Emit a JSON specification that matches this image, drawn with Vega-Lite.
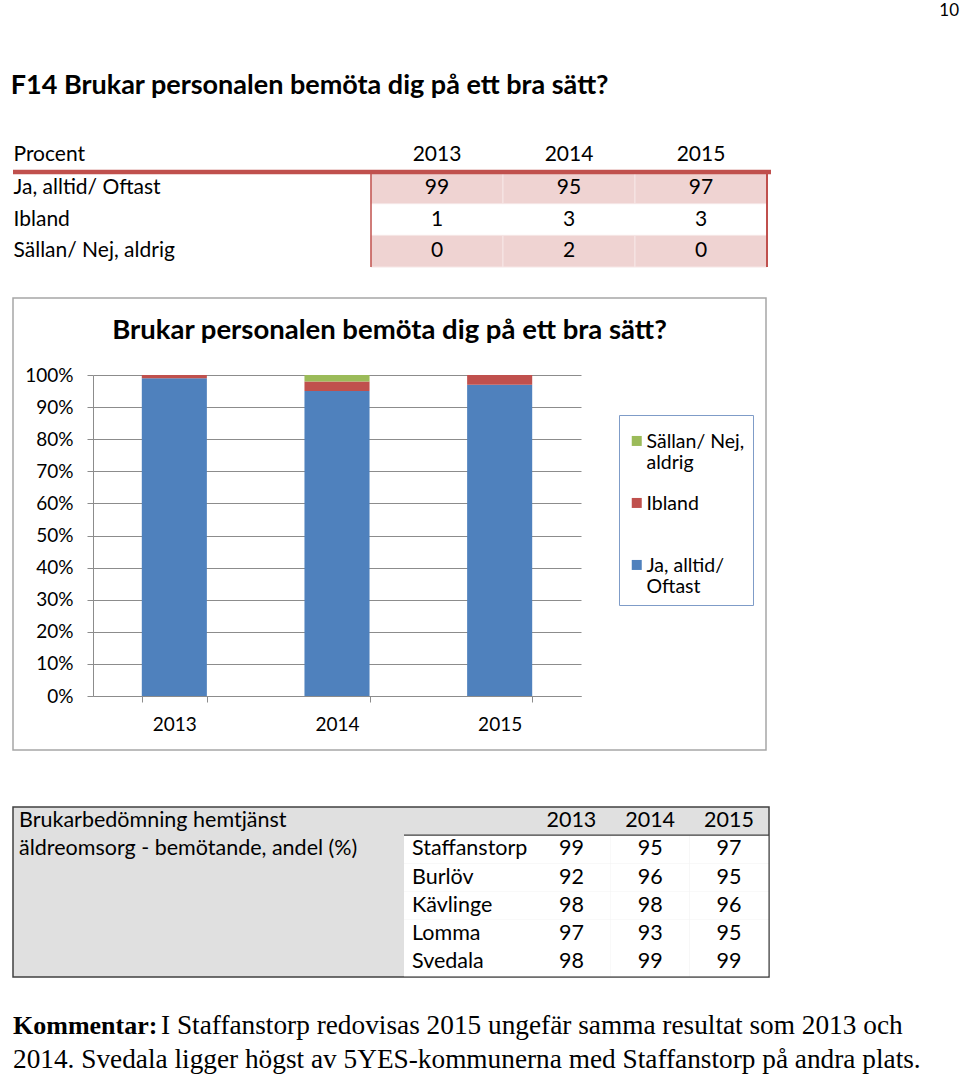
{
  "$schema": "https://vega.github.io/schema/vega-lite/v6.json",
  "background": "white",
  "padding": {"left": 10, "top": 2, "right": 2, "bottom": 0},
  "title": {"text": "10", "anchor": "end", "fontSize": 17, "fontWeight": "normal", "font": "Lato", "color": "#000000", "offset": 52},
  "datasets": {
    "f14": [
      {"kategori": "Ja, alltid/ Oftast", "ar": "2013", "procent": 99},
      {"kategori": "Ja, alltid/ Oftast", "ar": "2014", "procent": 95},
      {"kategori": "Ja, alltid/ Oftast", "ar": "2015", "procent": 97},
      {"kategori": "Ibland", "ar": "2013", "procent": 1},
      {"kategori": "Ibland", "ar": "2014", "procent": 3},
      {"kategori": "Ibland", "ar": "2015", "procent": 3},
      {"kategori": "Sällan/ Nej, aldrig", "ar": "2013", "procent": 0},
      {"kategori": "Sällan/ Nej, aldrig", "ar": "2014", "procent": 2},
      {"kategori": "Sällan/ Nej, aldrig", "ar": "2015", "procent": 0}
    ],
    "kommuner": [
      {"kommun": "Staffanstorp", "ar": "2013", "andel": 99},
      {"kommun": "Staffanstorp", "ar": "2014", "andel": 95},
      {"kommun": "Staffanstorp", "ar": "2015", "andel": 97},
      {"kommun": "Burlöv", "ar": "2013", "andel": 92},
      {"kommun": "Burlöv", "ar": "2014", "andel": 96},
      {"kommun": "Burlöv", "ar": "2015", "andel": 95},
      {"kommun": "Kävlinge", "ar": "2013", "andel": 98},
      {"kommun": "Kävlinge", "ar": "2014", "andel": 98},
      {"kommun": "Kävlinge", "ar": "2015", "andel": 96},
      {"kommun": "Lomma", "ar": "2013", "andel": 97},
      {"kommun": "Lomma", "ar": "2014", "andel": 93},
      {"kommun": "Lomma", "ar": "2015", "andel": 95},
      {"kommun": "Svedala", "ar": "2013", "andel": 98},
      {"kommun": "Svedala", "ar": "2014", "andel": 99},
      {"kommun": "Svedala", "ar": "2015", "andel": 99}
    ]
  },
  "config": {
    "view": {"stroke": null},
    "font": "Lato",
    "axis": {"labelFont": "Lato", "labelColor": "#000000", "titleFont": "Lato", "titleColor": "#000000"},
    "legend": {"labelFont": "Lato", "labelColor": "#000000"},
    "title": {"font": "Lato", "color": "#000000"}
  },
  "spacing": 29,
  "vconcat": [
    {
      "width": 758,
      "height": 95,
      "title": {"text": "F14 Brukar personalen bemöta dig på ett bra sätt?", "anchor": "start", "fontSize": 27, "fontWeight": "bold", "baseline": "alphabetic", "offset": 22},
      "data": {"name": "f14"},
      "layer": [
        {
          "transform": [{"filter": {"field": "kategori", "oneOf": ["Ja, alltid/ Oftast", "Sällan/ Nej, aldrig"]}}],
          "mark": {"type": "rect", "fill": "#EFD3D2", "stroke": "#F6E6E6", "strokeWidth": 1},
          "encoding": {
            "x": {"field": "ar", "type": "nominal", "scale": {"type": "band", "domain": ["2013", "2014", "2015"], "range": [358, 754], "paddingInner": 0, "paddingOuter": 0}, "axis": {"orient": "top", "title": null, "labelAngle": 0, "ticks": false, "tickSize": 0, "domain": false, "labelPadding": 12, "labelBaseline": "alphabetic", "labelFontSize": 21}},
            "y": {"field": "kategori", "type": "nominal", "scale": {"type": "band", "domain": ["Ja, alltid/ Oftast", "Ibland", "Sällan/ Nej, aldrig"], "paddingInner": 0, "paddingOuter": 0}, "axis": {"orient": "left", "title": "Procent", "titleAngle": 0, "titleAlign": "left", "titleBaseline": "alphabetic", "titleX": 0, "titleY": -12, "titleFontSize": 21, "titleFontWeight": "normal", "labelAlign": "left", "labelPadding": 0, "labelFontSize": 21, "labelLimit": 300, "ticks": false, "tickSize": 0, "domain": false}}
          }
        },
        {
          "mark": {"type": "text", "fontSize": 21, "font": "Lato", "color": "#000000"},
          "encoding": {
            "x": {"field": "ar", "type": "nominal", "scale": {"type": "band", "domain": ["2013", "2014", "2015"], "range": [358, 754], "paddingInner": 0, "paddingOuter": 0}, "axis": {"orient": "top", "title": null, "labelAngle": 0, "ticks": false, "tickSize": 0, "domain": false, "labelPadding": 12, "labelBaseline": "alphabetic", "labelFontSize": 21}},
            "y": {"field": "kategori", "type": "nominal", "scale": {"type": "band", "domain": ["Ja, alltid/ Oftast", "Ibland", "Sällan/ Nej, aldrig"], "paddingInner": 0, "paddingOuter": 0}, "axis": {"orient": "left", "title": "Procent", "titleAngle": 0, "titleAlign": "left", "titleBaseline": "alphabetic", "titleX": 0, "titleY": -12, "titleFontSize": 21, "titleFontWeight": "normal", "labelAlign": "left", "labelPadding": 0, "labelFontSize": 21, "labelLimit": 300, "ticks": false, "tickSize": 0, "domain": false}},
            "text": {"field": "procent", "type": "quantitative"}
          }
        },
        {
          "data": {"values": [{}]},
          "mark": {"type": "rule", "color": "#C0504D", "strokeWidth": 4.5},
          "encoding": {
            "y": {"datum": "Ja, alltid/ Oftast", "type": "nominal", "bandPosition": 0, "scale": {"type": "band", "domain": ["Ja, alltid/ Oftast", "Ibland", "Sällan/ Nej, aldrig"], "paddingInner": 0, "paddingOuter": 0}, "axis": {"orient": "left", "title": "Procent", "titleAngle": 0, "titleAlign": "left", "titleBaseline": "alphabetic", "titleX": 0, "titleY": -12, "titleFontSize": 21, "titleFontWeight": "normal", "labelAlign": "left", "labelPadding": 0, "labelFontSize": 21, "labelLimit": 300, "ticks": false, "tickSize": 0, "domain": false}}
          }
        },
        {
          "data": {"values": [{}]},
          "mark": {"type": "rule", "color": "#C0504D", "strokeWidth": 1.5},
          "encoding": {
            "x": {"datum": "2013", "type": "nominal", "bandPosition": 0, "scale": {"type": "band", "domain": ["2013", "2014", "2015"], "range": [358, 754], "paddingInner": 0, "paddingOuter": 0}, "axis": {"orient": "top", "title": null, "labelAngle": 0, "ticks": false, "tickSize": 0, "domain": false, "labelPadding": 12, "labelBaseline": "alphabetic", "labelFontSize": 21}}
          }
        },
        {
          "data": {"values": [{}]},
          "mark": {"type": "rule", "color": "#C0504D", "strokeWidth": 2},
          "encoding": {
            "x": {"datum": "2015", "type": "nominal", "bandPosition": 1, "scale": {"type": "band", "domain": ["2013", "2014", "2015"], "range": [358, 754], "paddingInner": 0, "paddingOuter": 0}, "axis": {"orient": "top", "title": null, "labelAngle": 0, "ticks": false, "tickSize": 0, "domain": false, "labelPadding": 12, "labelBaseline": "alphabetic", "labelFontSize": 21}}
          }
        }
      ]
    },
    {
      "spacing": 55,
      "vconcat": [
        {
          "width": 753,
          "height": 452,
          "view": {"stroke": "#A6A6A6", "strokeWidth": 1.5},
          "title": {"text": "Brukar personalen bemöta dig på ett bra sätt?", "anchor": "middle", "fontSize": 27.5, "fontWeight": "bold", "baseline": "alphabetic", "offset": -68},
          "data": {"name": "f14"},
          "mark": {"type": "bar"},
          "encoding": {
            "x": {"field": "ar", "type": "nominal", "scale": {"type": "band", "range": [80, 568], "paddingInner": 0.6, "paddingOuter": 0.3}, "axis": {"title": null, "orient": "bottom", "offset": -54, "labelAngle": 0, "domainColor": "#8C8C8C", "domainWidth": 1, "tickColor": "#8C8C8C", "tickBand": "extent", "tickSize": 6, "labelPadding": 13, "labelBaseline": "top", "labelFontSize": 19, "grid": false}},
            "y": {"field": "procent", "type": "quantitative", "stack": "zero", "scale": {"domain": [0, 100], "range": [398, 77], "nice": false}, "axis": {"title": null, "offset": -80, "values": [0, 10, 20, 30, 40, 50, 60, 70, 80, 90, 100], "labelExpr": "datum.value + '%'", "grid": true, "gridColor": "#8C8C8C", "domainColor": "#8C8C8C", "tickColor": "#8C8C8C", "tickSize": 6, "labelPadding": 14, "labelFontSize": 19}},
            "order": {"field": "procent", "type": "quantitative", "sort": "descending"},
            "color": {"field": "kategori", "type": "nominal", "sort": ["Sällan/ Nej, aldrig", "Ibland", "Ja, alltid/ Oftast"], "scale": {"domain": ["Sällan/ Nej, aldrig", "Ibland", "Ja, alltid/ Oftast"], "range": ["#9BBB59", "#C0504D", "#4F81BD"]}, "legend": {"orient": "none", "legendX": 606, "legendY": 243, "title": null, "strokeColor": "#7F9CC8", "fillColor": "white", "padding": 8, "symbolType": "M-1,0.64H1V2.64H-1Z", "symbolSize": 100, "symbolStrokeWidth": 0, "symbolOpacity": 1, "labelFontSize": 19.5, "labelBaseline": "top", "labelOffset": 0, "labelLimit": 200, "rowPadding": 12, "labelExpr": "datum.label == 'Sällan/ Nej, aldrig' ? ['Sällan/ Nej,', 'aldrig'] : datum.label == 'Ja, alltid/ Oftast' ? ['Ja, alltid/', 'Oftast'] : [datum.label, '']"}}
          }
        },
        {
          "spacing": 31,
          "vconcat": [
            {
              "width": 756,
              "height": 170,
              "view": {"fill": "#E0E0E0", "stroke": "#404040", "strokeWidth": 1.5},
              "resolve": {"scale": {"x": "independent"}},
              "layer": [
                {
                  "data": {"name": "kommuner"},
                  "transform": [{"filter": {"field": "ar", "equal": "2013"}}],
                  "mark": {"type": "rect", "fill": "white"},
                  "encoding": {
                    "x": {"datum": "namn", "type": "nominal", "scale": {"type": "band", "domain": ["namn"], "range": [391, 519], "paddingInner": 0, "paddingOuter": 0}, "axis": null},
                    "y": {"field": "kommun", "type": "nominal", "scale": {"type": "band", "domain": ["hdr", "Staffanstorp", "Burlöv", "Kävlinge", "Lomma", "Svedala"], "range": [0, 169.3], "paddingInner": 0, "paddingOuter": 0}, "axis": null}
                  }
                },
                {
                  "data": {"name": "kommuner"},
                  "mark": {"type": "rect", "fill": "white"},
                  "encoding": {
                    "x": {"field": "ar", "type": "nominal", "scale": {"type": "band", "domain": ["2013", "2014", "2015"], "range": [519, 755.3], "paddingInner": 0, "paddingOuter": 0}, "axis": null},
                    "y": {"field": "kommun", "type": "nominal", "scale": {"type": "band", "domain": ["hdr", "Staffanstorp", "Burlöv", "Kävlinge", "Lomma", "Svedala"], "range": [0, 169.3], "paddingInner": 0, "paddingOuter": 0}, "axis": null}
                  }
                },
                {
                  "data": {"name": "kommuner"},
                  "transform": [{"filter": {"field": "ar", "equal": "2013"}}],
                  "mark": {"type": "text", "align": "left", "dx": 8, "fontSize": 21.5, "font": "Lato", "color": "#000000"},
                  "encoding": {
                    "x": {"datum": "namn", "type": "nominal", "bandPosition": 0, "scale": {"type": "band", "domain": ["namn"], "range": [391, 519], "paddingInner": 0, "paddingOuter": 0}, "axis": null},
                    "y": {"field": "kommun", "type": "nominal", "scale": {"type": "band", "domain": ["hdr", "Staffanstorp", "Burlöv", "Kävlinge", "Lomma", "Svedala"], "range": [0, 169.3], "paddingInner": 0, "paddingOuter": 0}, "axis": null},
                    "text": {"field": "kommun", "type": "nominal"}
                  }
                },
                {
                  "data": {"name": "kommuner"},
                  "mark": {"type": "text", "fontSize": 21.5, "font": "Lato", "color": "#000000"},
                  "encoding": {
                    "x": {"field": "ar", "type": "nominal", "scale": {"type": "band", "domain": ["2013", "2014", "2015"], "range": [519, 755.3], "paddingInner": 0, "paddingOuter": 0}, "axis": null},
                    "y": {"field": "kommun", "type": "nominal", "scale": {"type": "band", "domain": ["hdr", "Staffanstorp", "Burlöv", "Kävlinge", "Lomma", "Svedala"], "range": [0, 169.3], "paddingInner": 0, "paddingOuter": 0}, "axis": null},
                    "text": {"field": "andel", "type": "quantitative"}
                  }
                },
                {
                  "data": {"name": "kommuner"},
                  "transform": [{"filter": {"field": "kommun", "equal": "Staffanstorp"}}],
                  "mark": {"type": "text", "fontSize": 21.5, "font": "Lato", "color": "#000000"},
                  "encoding": {
                    "x": {"field": "ar", "type": "nominal", "scale": {"type": "band", "domain": ["2013", "2014", "2015"], "range": [519, 755.3], "paddingInner": 0, "paddingOuter": 0}, "axis": null},
                    "y": {"datum": "hdr", "type": "nominal", "scale": {"type": "band", "domain": ["hdr", "Staffanstorp", "Burlöv", "Kävlinge", "Lomma", "Svedala"], "range": [0, 169.3], "paddingInner": 0, "paddingOuter": 0}, "axis": null},
                    "text": {"field": "ar", "type": "nominal"}
                  }
                },
                {
                  "data": {"values": [
                    {"rad": "hdr", "text": "Brukarbedömning hemtjänst"},
                    {"rad": "Staffanstorp", "text": "äldreomsorg - bemötande, andel (%)"}
                  ]},
                  "mark": {"type": "text", "align": "left", "dx": 6, "fontSize": 21.5, "font": "Lato", "color": "#000000"},
                  "encoding": {
                    "x": {"datum": "besk", "type": "nominal", "bandPosition": 0, "scale": {"type": "band", "domain": ["besk"], "range": [0, 391], "paddingInner": 0, "paddingOuter": 0}, "axis": null},
                    "y": {"field": "rad", "type": "nominal", "scale": {"type": "band", "domain": ["hdr", "Staffanstorp", "Burlöv", "Kävlinge", "Lomma", "Svedala"], "range": [0, 169.3], "paddingInner": 0, "paddingOuter": 0}, "axis": null},
                    "text": {"field": "text", "type": "nominal"}
                  }
                },
                {
                  "data": {"values": [{}]},
                  "mark": {"type": "rule", "color": "#404040", "strokeWidth": 1.2},
                  "encoding": {
                    "x": {"datum": "fran", "type": "nominal", "scale": {"type": "point", "domain": ["fran", "till"], "range": [391, 756], "padding": 0}, "axis": null},
                    "x2": {"datum": "till"},
                    "y": {"datum": "Staffanstorp", "type": "nominal", "bandPosition": 0, "scale": {"type": "band", "domain": ["hdr", "Staffanstorp", "Burlöv", "Kävlinge", "Lomma", "Svedala"], "range": [0, 169.3], "paddingInner": 0, "paddingOuter": 0}, "axis": null}
                  }
                }
              ]
            },
            {
              "width": 946,
              "height": 68,
              "data": {"values": [
                {"rad": "1", "del": "k", "text": "Kommentar:"},
                {"rad": "1", "del": "t", "text": "I Staffanstorp redovisas 2015 ungefär samma resultat som 2013 och"},
                {"rad": "2", "del": "t2", "text": "2014. Svedala ligger högst av 5YES-kommunerna med Staffanstorp på andra plats."}
              ]},
              "encoding": {
                "x": {"datum": "start", "type": "nominal", "bandPosition": 0, "scale": {"type": "band", "domain": ["start"], "range": [0, 946], "paddingInner": 0, "paddingOuter": 0}, "axis": null},
                "y": {"field": "rad", "type": "ordinal", "scale": {"type": "band", "domain": ["1", "2"], "paddingInner": 0, "paddingOuter": 0}, "axis": null},
                "text": {"field": "text", "type": "nominal"}
              },
              "layer": [
                {"transform": [{"filter": {"field": "del", "equal": "k"}}], "mark": {"type": "text", "align": "left", "baseline": "middle", "font": "Liberation Serif", "fontSize": 26, "fontWeight": "bold", "color": "#000000"}},
                {"transform": [{"filter": {"field": "del", "equal": "t"}}], "mark": {"type": "text", "align": "left", "baseline": "middle", "dx": 148, "font": "Liberation Serif", "fontSize": 27.3, "color": "#000000"}},
                {"transform": [{"filter": {"field": "del", "equal": "t2"}}], "mark": {"type": "text", "align": "left", "baseline": "middle", "font": "Liberation Serif", "fontSize": 27.3, "color": "#000000"}}
              ]
            }
          ]
        }
      ]
    }
  ]
}
